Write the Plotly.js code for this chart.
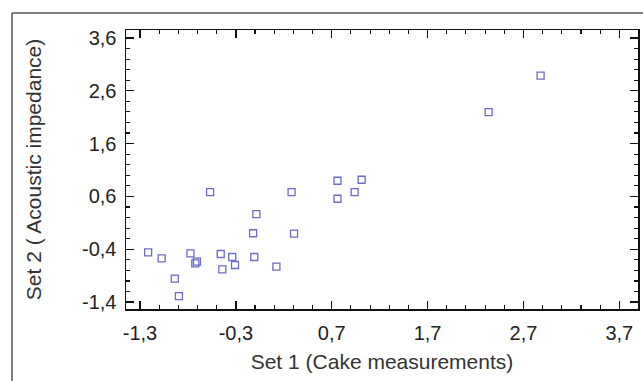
<!DOCTYPE html>
<html>
<head>
<meta charset="utf-8">
<script src="https://cdn.plot.ly/plotly-3.0.1.min.js"></script>
<style>html,body{margin:0;padding:0;background:#fff;}#chart{width:643px;height:381px;}</style>
</head>
<body>
<div id="chart"></div>
<script>
// Data
var set1 = [-1.215, -1.074, -0.937, -0.894, -0.774, -0.723, -0.706, -0.569, -0.458, -0.441, -0.338, -0.309,
            -0.120, -0.108, -0.086, 0.123, 0.281, 0.307, 0.760, 0.760, 0.939, 1.012, 2.337, 2.879];
var set2 = [-0.457, -0.571, -0.957, -1.286, -0.476, -0.666, -0.634, 0.682, -0.489, -0.780, -0.546, -0.697,
            -0.096, -0.546, 0.265, -0.729, 0.682, -0.103, 0.897, 0.556, 0.682, 0.916, 2.195, 2.885];

var xTickVals = [-1.3, -0.3, 0.7, 1.7, 2.7, 3.7];
var xTickText = ["-1,3", "-0,3", "0,7", "1,7", "2,7", "3,7"];
var yTickVals = [-1.4, -0.4, 0.6, 1.6, 2.6, 3.6];
var yTickText = ["-1,4", "-0,4", "0,6", "1,6", "2,6", "3,6"];

var font = "Arial, 'Liberation Sans', sans-serif";

var trace = {
  x: set1, y: set2, type: "scatter", mode: "markers",
  marker: {symbol: "square-open", size: 7, color: "#6c6cc4", line: {width: 1.3, color: "#6c6cc4"}},
  hoverinfo: "x+y"
};

var layout = {
  width: 643, height: 381,
  margin: {l: 126, r: 5, t: 30, b: 72},
  paper_bgcolor: "#fff", plot_bgcolor: "#fff",
  showlegend: false,
  font: {family: font, color: "#222"},
  xaxis: {
    range: [-1.446, 3.895], tickmode: "array", tickvals: xTickVals, ticktext: xTickText,
    ticks: "inside", ticklen: 8, tickwidth: 1.3, tickcolor: "#111",
    showline: true, linecolor: "#111", linewidth: 1.5, mirror: "allticks",
    showgrid: false, zeroline: false,
    tickfont: {size: 20, color: "#222", family: font},
    ticklabelstandoff: 5,
    minor: {tickmode: "linear", tick0: -1.3, dtick: 0.2, ticks: "inside", ticklen: 4, tickwidth: 1.1, tickcolor: "#111", showgrid: false},
    title: {text: "Set 1 (Cake measurements)", font: {size: 21, color: "#333", family: font}, standoff: 12},
    automargin: false
  },
  yaxis: {
    range: [-1.53, 3.75], tickmode: "array", tickvals: yTickVals, ticktext: yTickText,
    ticks: "inside", ticklen: 8, tickwidth: 1.3, tickcolor: "#111",
    showline: true, linecolor: "#111", linewidth: 1.5, mirror: "allticks",
    showgrid: false, zeroline: false,
    tickfont: {size: 20, color: "#222", family: font},
    ticklabelstandoff: 4,
    minor: {tickmode: "linear", tick0: -1.4, dtick: 0.2, ticks: "inside", ticklen: 4, tickwidth: 1.1, tickcolor: "#111", showgrid: false},
    title: {text: "Set 2 ( Acoustic impedance)", font: {size: 21, color: "#333", family: font}, standoff: 34},
    automargin: false
  },
  shapes: [
    {type: "line", xref: "paper", yref: "paper", x0: -0.2227, y0: 1.061, x1: 1.02, y1: 1.061, line: {color: "#555", width: 1.5}},
    {type: "line", xref: "paper", yref: "paper", x0: -0.2227, y0: 1.061, x1: -0.2227, y1: -0.27, line: {color: "#555", width: 1.5}}
  ]
};

Plotly.newPlot("chart", [trace], layout, {displayModeBar: false, staticPlot: true});
</script>
</body>
</html>
